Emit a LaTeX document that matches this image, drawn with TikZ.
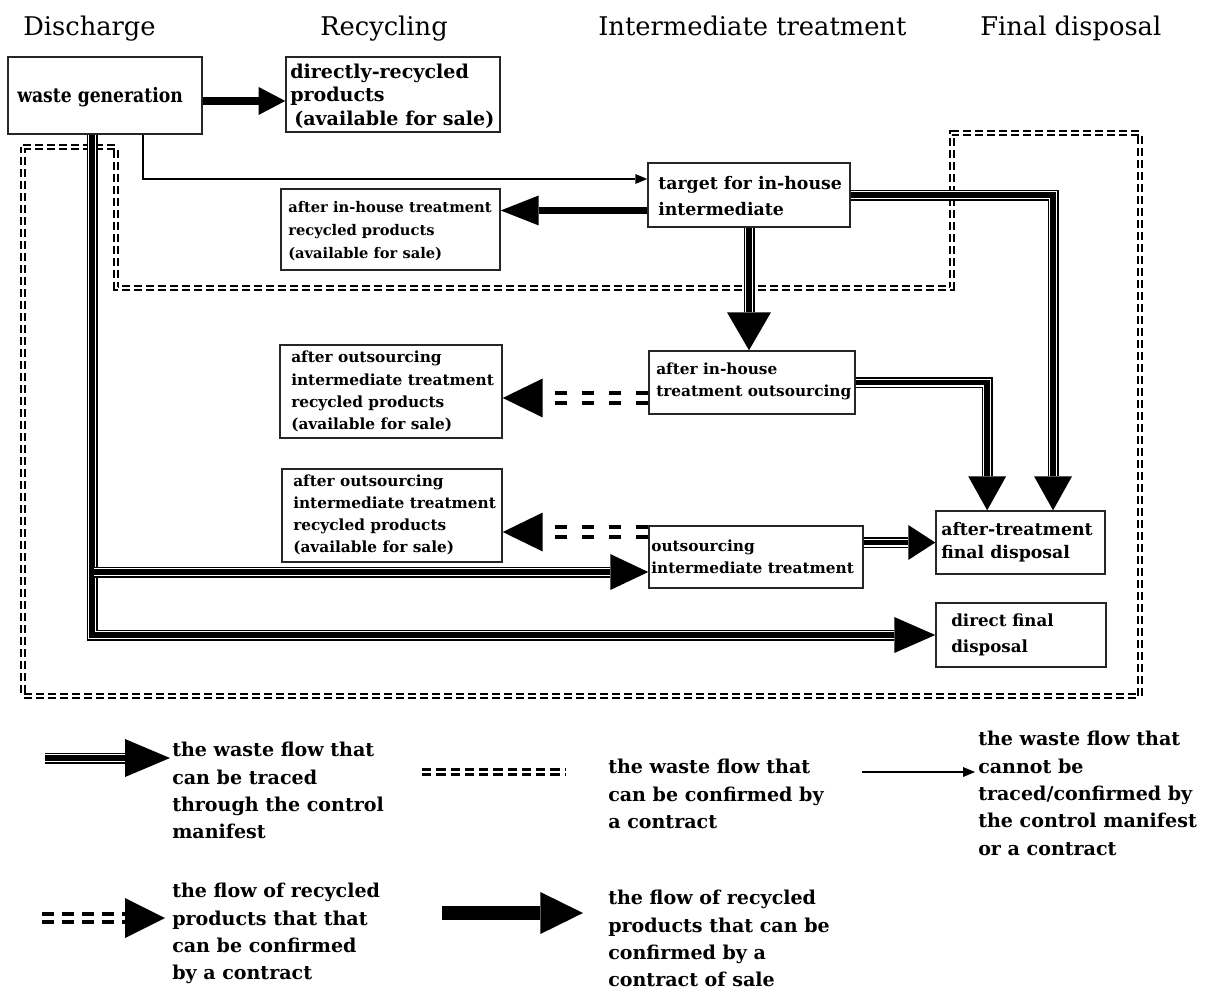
\documentclass[tikz,border=0pt]{standalone}
\usepackage{fontspec}
\setmainfont{DejaVu Serif}
\newfontfamily\narrowserif{DejaVu Serif}[FakeStretch=0.86]
\usetikzlibrary{arrows.meta,fit}

\newcommand\bxf[2]{\fontsize{#1pt}{#2pt}\selectfont\bfseries}
\newcommand\legfont{\fontsize{14.3pt}{20.5pt}\selectfont\bfseries}
\newcommand\headfont{\fontsize{19.3pt}{24pt}\selectfont}

\begin{document}
\begin{tikzpicture}[x=0.75pt, y=-0.75pt,
  box/.style={draw=black!85, line width=1.1pt, inner sep=0pt},
  txt/.style={inner sep=0pt, anchor=west, align=left, font=\bxf{11.5}{16.6}},
  legtxt/.style={inner sep=0pt, anchor=north west, align=left, font=\legfont},
  head/.style={inner sep=0pt, anchor=base west, font=\headfont},
  % three-stripe line: traced through the control manifest
  tri/.style 2 args={line width=8.25pt, line join=miter, draw=black,
    -{Triangle[length=#1,width=#2,line width=0pt]},
    postaction={draw=white, line width=6pt, arrows=-, shorten >=#1},
    postaction={draw=black, line width=4.2pt, arrows=-, shorten >=#1}},
  % double dashed arrow: recycled products confirmed by a contract
  ddash/.style n args={4}{line width=#3, draw=black,
    dash pattern=on 9pt off #4,
    -{Triangle[length=#1,width=#2,line width=0pt]},
    postaction={draw=white, line width=0.43*#3, arrows=-,
      dash pattern=on 9pt off #4, shorten >=#1}},
  % double dashed outline: confirmed by a contract
  frame/.style={line width=4.5pt, draw=black, dash pattern=on 6pt off 3pt,
    postaction={draw=white, line width=1.5pt, dash pattern=on 6pt off 3pt}},
  legframe/.style={line width=5.6pt, draw=black, dash pattern=on 7pt off 3.7pt,
    postaction={draw=white, line width=1.6pt, dash pattern=on 7pt off 3.7pt}},
  thickarr/.style 2 args={draw=black, -{Triangle[length=#1,width=#2,line width=0pt]}},
  thinarr/.style={draw=black, line width=0.9pt, -{Triangle[length=9pt,width=7.5pt,line width=0pt]}}
]
\useasboundingbox (0,0) rectangle (1223,997);

% column headings
\node[head] (hDis) at (23,35) {Discharge};
\node[head] (hRec) at (320,35) {Recycling};
\node[head] (hInt) at (598,35) {Intermediate treatment};
\node[head] (hFin) at (980,35) {Final disposal};

% contract outline
\draw[frame] (23,147) -- (116,147) -- (116,288) -- (952,288) -- (952,133)
  -- (1140,133) -- (1140,696) -- (23,696) -- cycle;

% boxes
\node[box, fit={(8,57) (202,134)}] (wg) {};
\node[box, fit={(286,57) (500,132)}] (drp) {};
\node[box, fit={(648,163) (850,227)}] (tgt) {};
\node[box, fit={(281,189) (500,270)}] (ihr) {};
\node[box, fit={(649,351) (855,414)}] (aio) {};
\node[box, fit={(280,345) (502,438)}] (orA) {};
\node[box, fit={(282,469) (502,562)}] (orB) {};
\node[box, fit={(649,526) (863,588)}] (oit) {};
\node[box, fit={(936,511) (1105,574)}] (atfd) {};
\node[box, fit={(936,603) (1106,667)}] (dfd) {};

% box texts
\node[txt, font=\narrowserif\bxf{15}{19}] (wgT) at (17,97) {waste generation};
\node[txt, font=\bxf{14.3}{17.6}] (drpT) at (290,96) {directly-recycled\\products\\\hspace*{3pt}(available for sale)};
\node[txt, font=\bxf{13}{19.5}] (tgtT) at (658,196) {target for in-house\\intermediate};
\node[txt, font=\bxf{11}{17.2}] (ihrT) at (288,231) {after in-house treatment\\recycled products\\(available for sale)};
\node[txt] (aioT) at (656,381) {after in-house\\treatment outsourcing};
\node[txt] (orAT) at (291,391.5) {after outsourcing\\intermediate treatment\\recycled products\\(available for sale)};
\node[txt] (orBT) at (293,515) {after outsourcing\\intermediate treatment\\recycled products\\(available for sale)};
\node[txt] (oitT) at (651,557) {outsourcing\\intermediate treatment};
\node[txt, font=\bxf{13}{17.2}] (atfdT) at (941,542) {after-treatment\\final disposal};
\node[txt, font=\bxf{12.5}{19.5}] (dfdT) at (951,635) {direct final\\disposal};

% recycled products sold directly / after in-house treatment
\coordinate (wgr) at ([yshift=-4.1pt]wg.east);
\draw[thickarr={20pt}{21pt}, line width=6pt] (wgr) -- (wgr -| drp.west);
\coordinate (tgtl) at ([yshift=-11.6pt]tgt.west);
\draw[thickarr={28.5pt}{22.5pt}, line width=5.25pt] (tgtl) -- (tgtl -| ihr.east);

% untraced flow
\coordinate (wgd) at ([xshift=28.5pt]wg.south);
\coordinate (tgtin) at ([yshift=12pt]tgt.west);
\draw[thinarr] (wgd) |- (tgtin);

% manifest-traced flows
\coordinate (wgout) at ([xshift=-9.75pt]wg.south);
\coordinate (oitin) at ([yshift=-11.25pt]oit.west);
\coordinate (atfdR) at ([xshift=24.4pt]atfd.north);
\coordinate (atfdL) at ([xshift=-25pt]atfd.north);
\draw[tri={30.75pt}{27pt}] (wgout) |- (dfd.west);
\draw[tri={28.5pt}{27pt}] ([xshift=1.5pt]wgout |- oitin) -- (oitin);
\draw[tri={25.5pt}{28.5pt}] (tgt.east) -| (atfdR);
\draw[tri={25.5pt}{28.5pt}] (aio.east) -| (atfdL);
\draw[tri={28.5pt}{33pt}] (tgt.south) -- (tgt.south |- aio.north);
\draw[tri={20.25pt}{26.25pt}] (oit.east |- atfd.west) -- (atfd.west);

% contract-confirmed recycled products
\coordinate (aiol) at ([yshift=-11.6pt]aio.west);
\draw[ddash={30pt}{29.25pt}{10.5pt}{11.25pt}] (aiol) -- (aiol -| orA.east);
\coordinate (oitl) at ([yshift=18.75pt]oit.west);
\draw[ddash={30pt}{29.25pt}{10.5pt}{11.25pt}] (oitl) -- (oitl -| orB.east);

% legend
\coordinate (lgA1) at (45,758);  \coordinate (lgA2) at (170,758);
\draw[tri={33.75pt}{28.5pt}] (lgA1) -- (lgA2);
\node[legtxt] (lgAT) at (172,742) {the waste flow that\\can be traced\\through the control\\manifest};

\coordinate (lgB1) at (422,772); \coordinate (lgB2) at (565,772);
\draw[legframe] (lgB1) -- (lgB2);
\node[legtxt] (lgBT) at (608,759) {the waste flow that\\can be confirmed by\\a contract};

\coordinate (lgC1) at (862,772); \coordinate (lgC2) at (975,772);
\draw[thinarr] (lgC1) -- (lgC2);
\node[legtxt] (lgCT) at (978,731) {the waste flow that\\cannot be\\traced/confirmed by\\the control manifest\\or a contract};

\coordinate (lgD1) at (42,918);  \coordinate (lgD2) at (165,918);
\draw[ddash={30pt}{30pt}{8.5pt}{6pt}] (lgD1) -- (lgD2);
\node[legtxt] (lgDT) at (172,883) {the flow of recycled\\products that that\\can be confirmed\\by a contract};

\coordinate (lgE1) at (442,913); \coordinate (lgE2) at (583,913);
\draw[thickarr={32pt}{31.5pt}, line width=10.5pt] (lgE1) -- (lgE2);
\node[legtxt] (lgET) at (608,890) {the flow of recycled\\products that can be\\confirmed by a\\contract of sale};
\end{tikzpicture}
\end{document}
